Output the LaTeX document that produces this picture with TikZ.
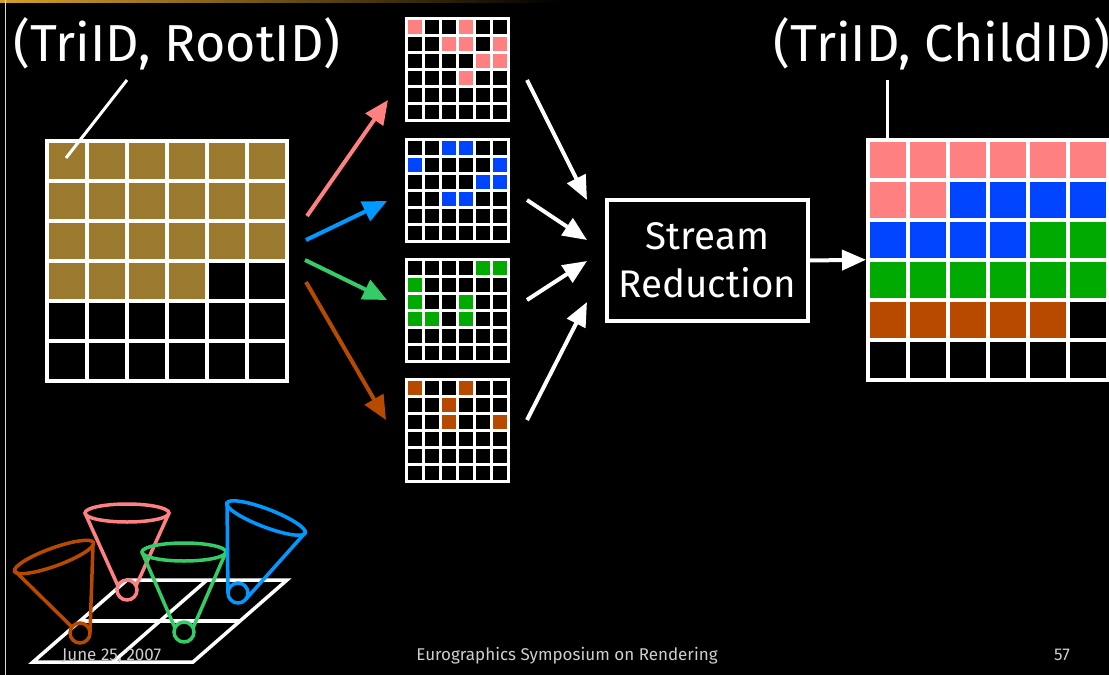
\documentclass[tikz,border=0pt]{standalone}
\usepackage{fontspec}
\setmainfont{Fira Sans}
\usetikzlibrary{arrows.meta}

\definecolor{rootgold}{RGB}{155,122,48}
\definecolor{fragpink}{RGB}{255,128,128}
\definecolor{fragblue}{RGB}{0,68,255}
\definecolor{fraggreen}{RGB}{0,170,0}
\definecolor{fragorange}{RGB}{184,74,0}
\definecolor{conepink}{RGB}{255,128,128}
\definecolor{coneblue}{RGB}{0,153,255}
\definecolor{conegreen}{RGB}{51,204,102}
\definecolor{coneorange}{RGB}{184,74,0}
\definecolor{slidegold}{RGB}{214,160,40}
\definecolor{footgray}{RGB}{205,205,205}

% one cell of a 6x6 grid: node, pitch, gap, row, column, colour
\newcommand{\gridcell}[6]{%
  \fill[#6] ([shift={({#5*#2+#3},{#4*#2+#3})}]#1.north west) rectangle ++({#2-#3},{#2-#3});}
% all cells of a grid in black
\newcommand{\blankcells}[3]{%
  \foreach \r in {0,...,5}{\foreach \c in {0,...,5}{\gridcell{#1}{#2}{#3}{\r}{\c}{black}}}}

\begin{document}
\begin{tikzpicture}[
  x=1pt, y=-1pt,
  gridbox/.style={fill=white, inner sep=0pt, outer sep=0pt, anchor=north west, minimum size=#1},
  fragarr/.style={-{Triangle[length=24pt,width=21pt]}, line width=4pt, #1},
  warr/.style={-{Triangle[length=24pt,width=20pt]}, line width=4pt, white},
  ptr/.style={line width=3pt, white},
  cone/.style={line width=3.5pt, #1},
  floor/.style={line width=3.5pt, white, line join=miter},
  redbox/.style={draw=white, line width=3.5pt, fill=black, inner sep=0pt, minimum width=201pt,
    minimum height=121pt, align=center, text=white, font=\fontsize{38.5}{48}\selectfont},
  title/.style={text=white, anchor=base, inner sep=0pt, font=\fontsize{52}{60}\selectfont},
  foot/.style={text=footgray, inner sep=0pt, font=\fontsize{17}{20}\selectfont}
]
%% slide background
\useasboundingbox (0,0) rectangle (1109,675);
\fill[black] (0,0) rectangle (1109,675);
\shade[left color=slidegold, right color=black] (0,0) rectangle (560,2);
\fill[white!85!black] (4.5,0) rectangle (6,675);

%% labels
\node[title] (rootlbl) at (177,61) {(TriID, RootID)};
\node[title] (childlbl) at (942,61) {(TriID, ChildID)};

%% root grid
\node[gridbox=243.5pt] (roots) at (45,139) {};
\blankcells{roots}{40}{3.5}
\foreach \n in {0,...,21}{
  \pgfmathtruncatemacro\r{floor(\n/6)}
  \pgfmathtruncatemacro\c{mod(\n,6)}
  \gridcell{roots}{40}{3.5}{\r}{\c}{rootgold}
}

%% four fragment grids
\node[gridbox=105pt] (frag1) at (405,17) {};
\node[gridbox=105pt] (frag2) at (405,138) {};
\node[gridbox=105pt] (frag3) at (405,258) {};
\node[gridbox=105pt] (frag4) at (405,378) {};
\foreach \g in {frag1,frag2,frag3,frag4}{\blankcells{\g}{17}{3}}
\foreach \r/\c in {0/0,0/3,1/2,1/3,1/5,2/4,2/5,3/3}{\gridcell{frag1}{17}{3}{\r}{\c}{fragpink}}
\foreach \r/\c in {0/2,0/3,1/0,1/5,2/4,2/5,3/2,3/3}{\gridcell{frag2}{17}{3}{\r}{\c}{fragblue}}
\foreach \r/\c in {0/4,0/5,1/0,2/0,2/3,3/0,3/1,3/3}{\gridcell{frag3}{17}{3}{\r}{\c}{fraggreen}}
\foreach \r/\c in {0/0,0/3,1/2,2/2,2/5}{\gridcell{frag4}{17}{3}{\r}{\c}{fragorange}}

%% reduced grid
\node[gridbox=243.5pt] (childs) at (866,138) {};
\blankcells{childs}{40}{3.5}
\foreach \first/\last/\col in {0/7/fragpink, 8/15/fragblue, 16/23/fraggreen, 24/28/fragorange}{
  \foreach \n in {\first,...,\last}{
    \pgfmathtruncatemacro\r{floor(\n/6)}
    \pgfmathtruncatemacro\c{mod(\n,6)}
    \gridcell{childs}{40}{3.5}{\r}{\c}{\col}
  }
}

%% stream reduction
\node[redbox] (reduce) at (707.5,260.5) {Stream\\Reduction};

%% pointers from labels
\coordinate (rootptr) at (127,80);
\coordinate (rootcell) at (66,158);
\coordinate (childptr) at (887,80);
\coordinate (childcell) at (887,138);
\draw[ptr] (rootptr) -- (rootcell);
\draw[ptr] (childptr) -- (childcell);

%% fan out
\coordinate (fan1) at (307,216);  \coordinate (hit1) at (388,100);
\coordinate (fan2) at (306,240);  \coordinate (hit2) at (387,201);
\coordinate (fan3) at (305,260);  \coordinate (hit3) at (387,300);
\coordinate (fan4) at (306,282);  \coordinate (hit4) at (386,420);
\draw[fragarr=conepink] (fan1) -- (hit1);
\draw[fragarr=coneblue] (fan2) -- (hit2);
\draw[fragarr=conegreen] (fan3) -- (hit3);
\draw[fragarr=coneorange] (fan4) -- (hit4);

%% fan in
\coordinate (src1) at (527,80);   \coordinate (dst1) at (587,200);
\coordinate (src2) at (527,200);  \coordinate (dst2) at (587,240);
\coordinate (src3) at (527,300);  \coordinate (dst3) at (587,261);
\coordinate (src4) at (527,420);  \coordinate (dst4) at (587,302);
\foreach \i in {1,...,4}{\draw[warr] (src\i) -- (dst\i);}
\draw[warr] (reduce.east) -- (childs.west);

%% floor tiles
\draw[floor] (33,662) -- (193,662) -- (287,580) -- (127,580) -- cycle;
\draw[floor] (80,621) -- (240,621);
\draw[floor] (113,662) -- (207,580);

%% cones
\draw[cone=coneorange, rotate around={20:(54,557)}] (54,557) ellipse [x radius=42, y radius=9];
\draw[cone=coneorange] (80,633) circle [radius=10];
\draw[cone=coneorange] (15,571) -- (72,627) (93,545) -- (90,632);

\draw[cone=conepink] (127,513) ellipse [x radius=42, y radius=9];
\draw[cone=conepink] (127,590) circle [radius=10];
\draw[cone=conepink] (85,513) -- (118,586) (169,513) -- (136,586);

\draw[cone=conegreen] (184,552) ellipse [x radius=42, y radius=9];
\draw[cone=conegreen] (184,632) circle [radius=10];
\draw[cone=conegreen] (142,552) -- (175,628) (226,552) -- (193,628);

\draw[cone=coneblue, rotate around={-21:(266,518)}] (266,518) ellipse [x radius=42, y radius=9];
\draw[cone=coneblue] (238,593) circle [radius=10];
\draw[cone=coneblue] (227,503) -- (228,593) (305,533) -- (246,599);

%% footer
\node[foot, anchor=base west] (date) at (62,660) {June 25, 2007};
\node[foot, anchor=base] (venue) at (567,660) {Eurographics Symposium on Rendering};
\node[foot, anchor=base] (page) at (1062,660) {57};
\end{tikzpicture}
\end{document}
